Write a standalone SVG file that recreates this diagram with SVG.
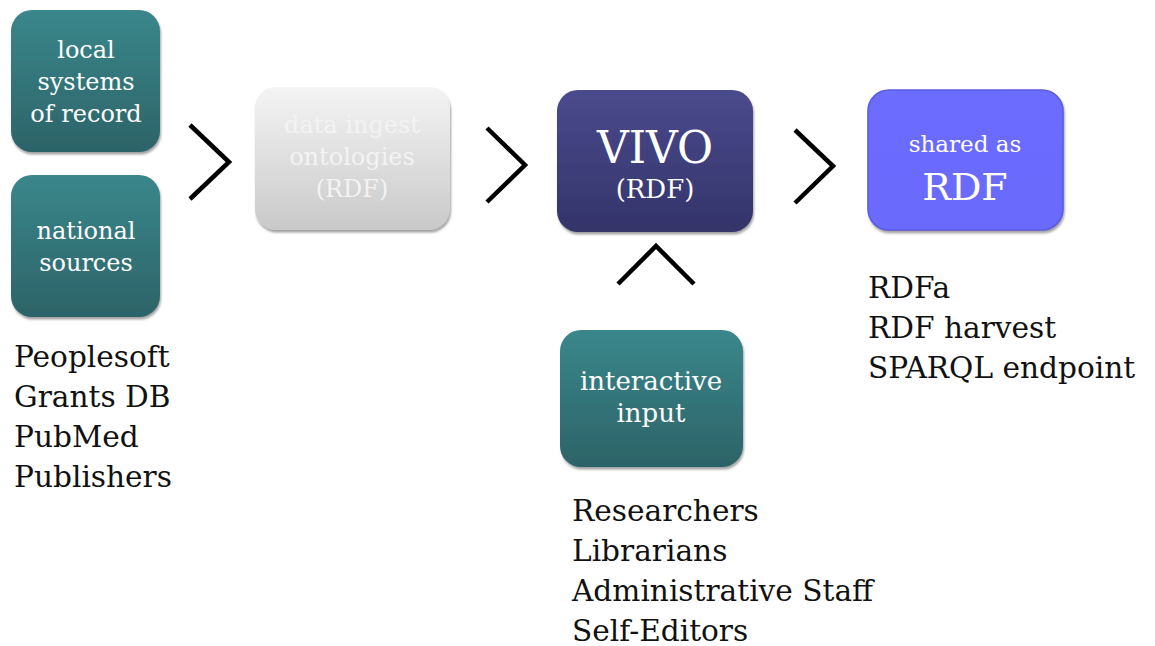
<svg xmlns="http://www.w3.org/2000/svg" width="1155" height="646" viewBox="0 0 1155 646">
<defs>
<linearGradient id="teal" x1="0" y1="0" x2="0" y2="1"><stop offset="0" stop-color="#3a878b"/><stop offset="1" stop-color="#2c6368"/></linearGradient>
<linearGradient id="gray" x1="0" y1="0" x2="0" y2="1"><stop offset="0" stop-color="#f4f4f4"/><stop offset="1" stop-color="#c9c9c9"/></linearGradient>
<linearGradient id="navy" x1="0" y1="0" x2="0" y2="1"><stop offset="0" stop-color="#4a4a8d"/><stop offset="1" stop-color="#34346a"/></linearGradient>
<linearGradient id="blue" x1="0" y1="0" x2="0" y2="1"><stop offset="0" stop-color="#6c6cff"/><stop offset="1" stop-color="#6a6afc"/></linearGradient>
<filter id="sh" x="-10%" y="-10%" width="125%" height="125%"><feDropShadow dx="1" dy="2.5" stdDeviation="1" flood-color="#555" flood-opacity="0.55"/></filter>
</defs>
<style>
.bt{font-family:"DejaVu Serif","Liberation Serif",serif;fill:#ffffff;text-anchor:middle}
.gt{fill:#f3f3f3}
.lt{font-family:"DejaVu Serif","Liberation Serif",serif;fill:#111111;font-size:29.6px}
.chev{fill:none;stroke:#000;stroke-width:4.5}
</style>
<g id="local">
<rect x="11" y="10" width="149" height="142" rx="21" fill="url(#teal)" filter="url(#sh)"/>
<text class="bt" font-size="24" x="86" y="58">local</text>
<text class="bt" font-size="24" x="86" y="90">systems</text>
<text class="bt" font-size="24" x="86" y="122">of record</text>
</g>
<g id="national">
<rect x="11" y="175" width="149" height="142" rx="21" fill="url(#teal)" filter="url(#sh)"/>
<text class="bt" font-size="24" x="86" y="239">national</text>
<text class="bt" font-size="24" x="86" y="271">sources</text>
</g>
<g id="ingest">
<rect x="255" y="87" width="195" height="143" rx="21" fill="url(#gray)" filter="url(#sh)"/>
<text class="bt gt" font-size="24" x="352" y="133">data ingest</text>
<text class="bt gt" font-size="24" x="352" y="165">ontologies</text>
<text class="bt gt" font-size="24" x="352" y="197">(RDF)</text>
</g>
<g id="vivo">
<rect x="557" y="90" width="196" height="142" rx="21" fill="url(#navy)" filter="url(#sh)"/>
<text class="bt" font-size="44" x="655" y="163">VIVO</text>
<text class="bt" font-size="26" x="655" y="198">(RDF)</text>
</g>
<g id="shared">
<rect x="868" y="90" width="195" height="140" rx="21" fill="url(#blue)" stroke="#5a5ae0" stroke-width="1.5" filter="url(#sh)"/>
<text class="bt" font-size="23" x="965" y="152">shared as</text>
<text class="bt" font-size="38" x="965" y="200">RDF</text>
</g>
<g id="interactive">
<rect x="560" y="330" width="183" height="137" rx="21" fill="url(#teal)" filter="url(#sh)"/>
<text class="bt" font-size="26" x="651" y="390">interactive</text>
<text class="bt" font-size="26" x="651" y="422">input</text>
</g>
<g id="connectors">
<polyline class="chev" points="190,125 229,162 190,199"/>
<polyline class="chev" points="487,128 525,165 487,202"/>
<polyline class="chev" points="795,130 833,166 795,203"/>
<polyline class="chev" points="618,284 656,246 694,284"/>
</g>
<g id="sources-list">
<text class="lt" x="14" y="367">Peoplesoft</text>
<text class="lt" x="14" y="407">Grants DB</text>
<text class="lt" x="14" y="447">PubMed</text>
<text class="lt" x="14" y="487">Publishers</text>
</g>
<g id="input-list">
<text class="lt" x="572" y="521">Researchers</text>
<text class="lt" x="572" y="561">Librarians</text>
<text class="lt" x="572" y="601">Administrative Staff</text>
<text class="lt" x="572" y="641">Self-Editors</text>
</g>
<g id="shared-list">
<text class="lt" x="868" y="298">RDFa</text>
<text class="lt" x="868" y="338">RDF harvest</text>
<text class="lt" x="868" y="378">SPARQL endpoint</text>
</g>
</svg>
